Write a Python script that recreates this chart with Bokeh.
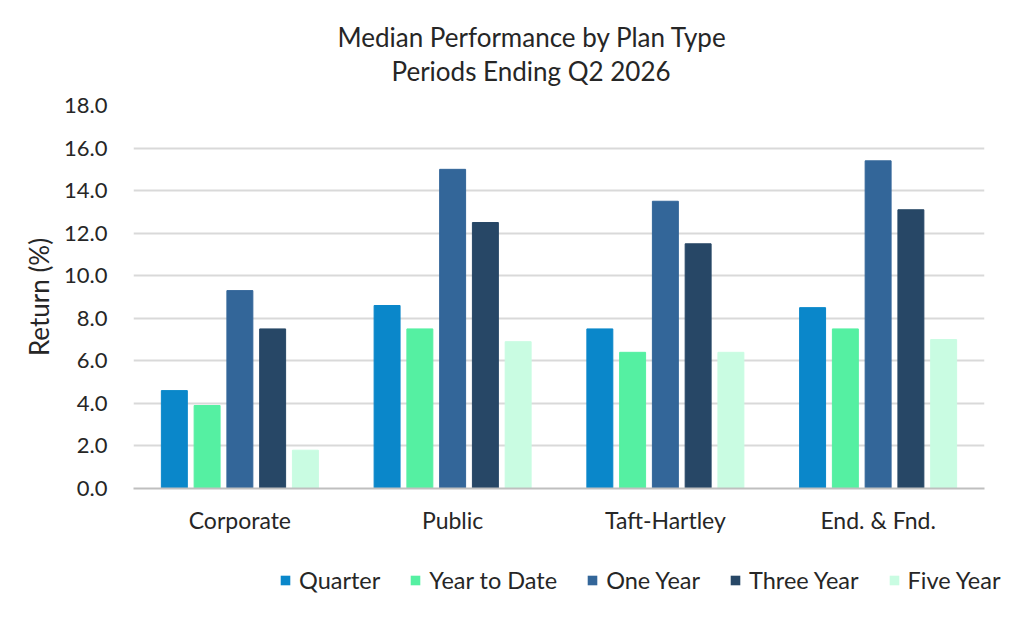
from bokeh.plotting import figure
from bokeh.layouts import column, row
from bokeh.models import FactorRange, Range1d, Legend, LegendItem, Title, ColumnDataSource, FixedTicker, NumeralTickFormatter
from bokeh.transform import dodge
from bokeh.embed import file_html
from bokeh.resources import INLINE

categories = ["Corporate", "Public", "Taft-Hartley", "End. & Fnd."]
series = ["Quarter", "Year to Date", "One Year", "Three Year", "Five Year"]
quarter = [4.6, 8.6, 7.5, 8.5]
ytd = [3.9, 7.5, 6.4, 7.5]
one_year = [9.3, 15.0, 13.5, 15.4]
three_year = [7.5, 12.5, 11.5, 13.1]
five_year = [1.8, 6.9, 6.4, 7.0]
colors = ["#0A87CA", "#55F0A2", "#336699", "#274766", "#C9FCE2"]
y_ticks = [0, 2, 4, 6, 8, 10, 12, 14, 16, 18]

FONT = "Lato"
TXT = "#262626"

src = ColumnDataSource(dict(cat=categories, q=quarter, ytd=ytd, one=one_year, three=three_year, five=five_year))
cols = ["q", "ytd", "one", "three", "five"]
offsets = [-0.308, -0.154, 0.0, 0.154, 0.308]

xr = FactorRange(*categories, range_padding=0)
p = figure(x_range=xr, y_range=Range1d(0, 18),
           width=1016, height=560, output_backend="svg", toolbar_location=None,
           min_border_left=133, min_border_right=32, min_border_top=105, min_border_bottom=72)
p.title = None

for c, col, off in zip(cols, colors, offsets):
    p.vbar(x=dodge("cat", off, range=xr), top=c, width=0.122, source=src,
           fill_color=col, line_color=col, line_width=1)

p.outline_line_color = None
p.xgrid.grid_line_color = None
p.ygrid.grid_line_color = "#D9D9D9"
p.ygrid.grid_line_width = 2
p.ygrid.ticker = FixedTicker(ticks=y_ticks)

p.yaxis.ticker = FixedTicker(ticks=y_ticks)
p.yaxis.formatter = NumeralTickFormatter(format="0.0")
p.yaxis.axis_line_color = None
p.yaxis.major_tick_line_color = None
p.yaxis.minor_tick_line_color = None
p.yaxis.major_label_standoff = 20
p.yaxis.major_label_text_font = FONT
p.yaxis.major_label_text_font_size = "22px"
p.yaxis.major_label_text_color = TXT
p.yaxis.axis_label = "Return (%)"
p.yaxis.axis_label_text_font = FONT
p.yaxis.axis_label_text_font_size = "26px"
p.yaxis.axis_label_text_font_style = "normal"
p.yaxis.axis_label_text_color = TXT
p.yaxis.axis_label_standoff = 6

p.xaxis.axis_line_color = "#BFBFBF"
p.xaxis.axis_line_width = 2
p.xaxis.major_tick_line_color = None
p.xaxis.minor_tick_line_color = None
p.xaxis.major_label_standoff = 11
p.xaxis.major_label_text_font = FONT
p.xaxis.major_label_text_font_size = "23px"
p.xaxis.major_label_text_color = TXT

# spacer between frame and titles
p.add_layout(Title(text=" ", text_font_size="15px", standoff=0), "above")
p.add_layout(Title(text="Periods Ending Q2 2026", align="left", offset=258,
                   text_font=FONT, text_font_size="26px", text_font_style="normal",
                   text_color=TXT, standoff=0), "above")
p.add_layout(Title(text="Median Performance by Plan Type", align="left", offset=204,
                   text_font=FONT, text_font_size="26px", text_font_style="normal",
                   text_color=TXT, standoff=0), "above")

# legend strip (zero-height bars placed far outside the view; only their legend swatches show)
p2 = figure(width=1016, height=48, x_range=xr, y_range=Range1d(-200, -100),
            output_backend="svg", toolbar_location=None, x_axis_type=None, y_axis_type=None,
            min_border=0, min_border_left=0, min_border_right=0)
p2.outline_line_color = None
p2.grid.grid_line_color = None
items = []
for name, c, col, off in zip(series, cols, colors, offsets):
    r = p2.vbar(x=dodge("cat", off + 100, range=xr), top=c, bottom=c, width=0.122, source=src,
                fill_color=col, line_color=None)
    items.append(LegendItem(label=name, renderers=[r]))
legend = Legend(items=items, orientation="horizontal", location=(279, 14),
                glyph_width=12, glyph_height=12, label_standoff=8, spacing=29,
                label_text_font=FONT, label_text_font_size="23.5px", label_text_color=TXT,
                border_line_color=None, background_fill_alpha=0, padding=0, margin=0)
p2.add_layout(legend, "center")

layout = column(p, row(p2), spacing=0)
open("out.html", "w").write(file_html(layout, INLINE))
